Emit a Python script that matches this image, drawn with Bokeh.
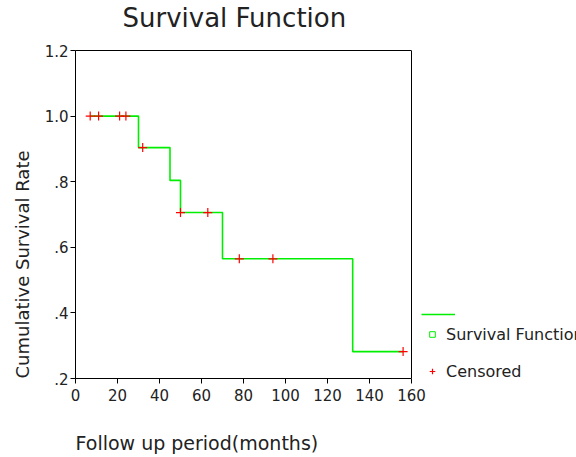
from bokeh.plotting import figure
from bokeh.models import (Legend, LegendItem, FixedTicker, Range1d, Title,
                          LinearAxis, Span)
from bokeh.embed import file_html
from bokeh.resources import INLINE

# ---- data ----
step_months = [7, 30, 45, 50, 70, 132, 156]
step_survival = [1.0, 0.904, 0.804, 0.706, 0.565, 0.282, 0.282]
censored_months = [7, 11, 21, 24, 32, 50, 63, 78, 94, 156]
censored_survival = [1.0, 1.0, 1.0, 1.0, 0.904, 0.706, 0.706, 0.565, 0.565, 0.282]
x_ticks = [0, 20, 40, 60, 80, 100, 120, 140, 160]
y_ticks = [0.2, 0.4, 0.6, 0.8, 1.0, 1.2]
y_tick_labels = [".2", ".4", ".6", ".8", "1.0", "1.2"]
x_min, x_max = 0, 160
y_min, y_max = 0.2, 1.2

FONT = "DejaVu Sans"
TXT = "#222222"
GREEN = "#00ee00"

# plot box is 336 px wide; the frame is extended to the right so that the
# legend (outside the box) lives inside the drawable area
BOX_W, FRAME_W = 336, 501
p = figure(frame_width=FRAME_W, frame_height=328,
           min_border_left=75, min_border_right=0,
           min_border_top=50, min_border_bottom=79,
           x_range=Range1d(x_min, x_max * FRAME_W / BOX_W),
           y_range=Range1d(y_min, y_max),
           output_backend="svg", toolbar_location=None)
p.grid.visible = False
p.outline_line_color = None

p.title.text = "Survival Function"
p.title.align = "left"
p.title.offset = 47
p.title.text_font = FONT
p.title.text_font_size = "26px"
p.title.text_font_style = "normal"
p.title.text_color = TXT
p.title.standoff = 0

p.xaxis.ticker = FixedTicker(ticks=x_ticks)
p.xaxis.bounds = (x_min, x_max)
p.yaxis.ticker = FixedTicker(ticks=y_ticks)
p.yaxis.major_label_overrides = {t: l for t, l in zip(y_ticks, y_tick_labels)}
for ax in (p.xaxis, p.yaxis):
    ax.axis_line_color = "black"
    ax.major_tick_line_color = "black"
    ax.major_tick_out = 5
    ax.major_tick_in = 0
    ax.minor_tick_line_color = None
    ax.major_label_text_font = FONT
    ax.major_label_text_font_size = "15px"
    ax.major_label_text_color = TXT
p.xaxis.major_label_standoff = 5
p.yaxis.major_label_standoff = 2

# top and right edges of the plot box
top_axis = LinearAxis(bounds=(x_min, x_max), ticker=FixedTicker(ticks=[]),
                      axis_line_color="black", major_tick_line_color=None,
                      minor_tick_line_color=None, major_label_standoff=0,
                      major_label_text_font_size="0px")
p.add_layout(top_axis, "above")
# empty spacer between the box and the chart title
p.add_layout(Title(text=" ", text_font_size="1px", standoff=15), "above")
p.add_layout(Span(location=x_max, dimension="height", line_color="black",
                  line_width=1))

step_r = p.step(step_months, step_survival, mode="after",
                line_color=GREEN, line_width=1.6)
cens_r = p.scatter(censored_months, censored_survival, marker="cross", size=9,
                   line_color="red", line_width=1.2)
# square symbol of the "Survival Function" legend entry (zero size in plot)
sq_r = p.scatter(step_months, step_survival, marker="square", size=0,
                 fill_color=None, line_color=GREEN, line_width=1)

common = dict(padding=0, margin=0, background_fill_alpha=0,
              border_line_alpha=0, label_text_font=FONT,
              label_text_color=TXT)

# axis titles as side-panel titles
ylab = Title(text="Cumulative Survival Rate", align="left", text_font=FONT,
             text_font_size="18px", text_font_style="normal",
             text_color=TXT, standoff=17)
p.add_layout(ylab, "left")
xlab = Title(text="Follow up period(months)", align="left", text_font=FONT,
             text_font_size="19px", text_font_style="normal",
             text_color=TXT, standoff=52)
p.add_layout(xlab, "below")

legA = Legend(items=[LegendItem(label=" ", renderers=[step_r])],
              location=(346, 59), glyph_width=34, glyph_height=10,
              label_width=0, label_height=0, label_standoff=0, spacing=0,
              label_text_font_size="1px", **common)
legBC = Legend(items=[LegendItem(label="Survival Function", renderers=[sq_r]),
                      LegendItem(label="Censored", renderers=[cens_r])],
               location=(347, -3), glyph_width=20, glyph_height=14,
               label_height=20, label_standoff=4, spacing=17,
               label_text_font_size="16px", **common)
p.add_layout(legA, "center")
p.add_layout(legBC, "center")

open("out.html", "w").write(file_html(p, INLINE))
